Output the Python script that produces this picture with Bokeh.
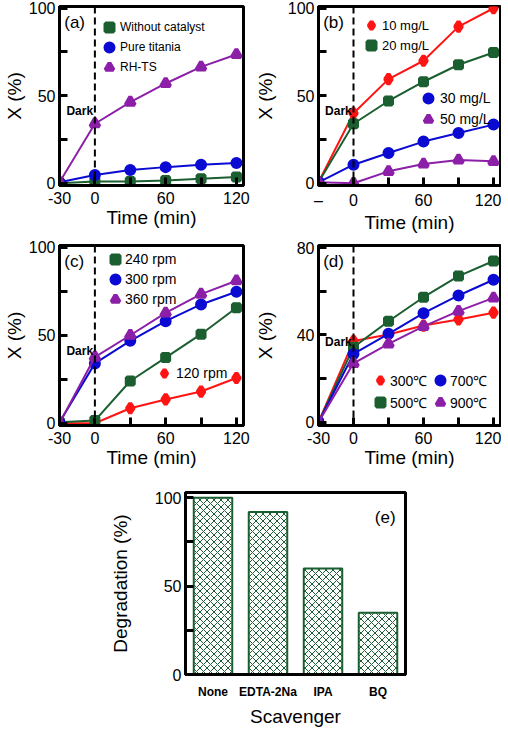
from bokeh.plotting import figure
from bokeh.models import Range1d, FactorRange, FixedTicker, Span, Label, Legend, LegendItem
from bokeh.layouts import column, row
from bokeh.embed import file_html
from bokeh.resources import INLINE

# ---------------- data ----------------
time_min = [-30, 0, 30, 60, 90, 120]
x_ticks = [-30, 0, 30, 60, 90, 120]
x_tick_labels = ["-30", "0", "", "60", "", "120"]
x_tick_labels_b = ["\u2013", "0", "", "60", "", "120"]

a_without = [0, 1, 1, 1.5, 2.5, 3.5]
a_titania = [0.5, 4.7, 7.5, 9.2, 10.5, 11.5]
a_rhts = [0.5, 34, 46.4, 57, 66.5, 73.6]

b_10 = [0.5, 40, 59.5, 70, 89.5, 100]
b_20 = [0.5, 34, 47, 58, 67.7, 74.7]
b_30 = [0.5, 10.6, 17.3, 23.8, 28.7, 33.5]
b_50 = [0.5, 0, 6.8, 11, 13.3, 12.5]

c_120 = [0, 0, 8.5, 13.5, 18, 25.7]
c_240 = [0.5, 1.5, 24, 37.3, 50.6, 65.6]
c_300 = [0.5, 34, 46.8, 58, 67.5, 74.7]
c_360 = [0, 37.6, 50, 62.7, 73.4, 81]

d_300 = [0, 37.2, 40.2, 44.3, 47.1, 50.2]
d_500 = [0, 34.4, 46.3, 57.3, 67, 73.9]
d_700 = [0, 31.3, 40.5, 50, 58.1, 65.3]
d_900 = [0, 27, 35.9, 43.9, 50.9, 57]

y_ticks_100 = [0, 25, 50, 75, 100]
y_labels_100 = ["0", "", "50", "", "100"]
y_ticks_80 = [0, 20, 40, 60, 80]
y_labels_80 = ["0", "", "40", "", "80"]

scavengers = ["None", "EDTA-2Na", "IPA", "BQ"]
degradation = [100, 92, 60, 35]

# ---------------- style ----------------
GREEN = "#1b5e30"
BLUE = "#0a0ad2"
PURPLE = "#8c1fa8"
RED = "#ff1414"
FONT = "Liberation Sans"
MARKERS = {"square": 7, "circle": 8, "triangle": 9, "diamond": 10}


def style_axis(ax, ticks=None, labels=None, tick_in=8):
    ax.axis_line_width = 3
    ax.axis_line_color = "black"
    ax.major_tick_in = tick_in
    ax.major_tick_out = 0
    ax.major_tick_line_width = 3
    ax.minor_tick_line_color = None
    ax.major_label_text_font = FONT
    ax.major_label_text_font_size = "16px"
    ax.major_label_text_color = "black"
    ax.axis_label_text_font = FONT
    ax.axis_label_text_font_size = "19px"
    ax.axis_label_text_font_style = "normal"
    ax.axis_label_text_color = "black"
    if ticks is not None:
        ax.ticker = FixedTicker(ticks=ticks)
        ax.major_label_overrides = {t: l for t, l in zip(ticks, labels)}


def panel(ylim, yticks, ylabels, xlabels, left, right, top, bottom, fw, fh,
          ylab_standoff, tag, dark_y):
    p = figure(frame_width=fw, frame_height=fh, min_border_left=left,
               min_border_right=right, min_border_top=top,
               min_border_bottom=bottom, x_range=Range1d(-30, 126),
               y_range=Range1d(*ylim), output_backend="svg",
               toolbar_location=None)
    p.xgrid.visible = False
    p.ygrid.visible = False
    p.outline_line_color = "black"
    p.outline_line_width = 3
    p.outline_line_alpha = 1
    style_axis(p.xaxis[0], x_ticks, xlabels)
    style_axis(p.yaxis[0], yticks, ylabels)
    p.xaxis.axis_label = "Time (min)"
    p.yaxis.axis_label = "X (%)"
    p.xaxis.major_label_standoff = 6
    p.xaxis.axis_label_standoff = 0
    p.yaxis.major_label_standoff = 4
    p.yaxis.axis_label_standoff = ylab_standoff
    p.add_layout(Span(location=0, dimension="height", line_color="black",
                      line_width=2, line_dash="7 4"))
    p.add_layout(Label(x=-1.5, y=dark_y, text="Dark", text_align="right",
                       text_baseline="middle", text_font=FONT,
                       text_font_style="bold", text_font_size="12px",
                       text_color="black"))
    span = ylim[1] - ylim[0]
    p.add_layout(Label(x=-26, y=ylim[1] - span * 0.09, text=tag,
                       text_align="left", text_baseline="middle",
                       text_font=FONT, text_font_size="17px",
                       text_color="black"))
    return p


def series(p, y, color, marker):
    p.line(time_min, y, line_color=color, line_width=2)
    return p.scatter(time_min, y, marker=marker, size=MARKERS[marker],
                     fill_color=color, line_color=color, line_width=4)


def add_legend(p, items, vx, vy, spacing, standoff, font):
    leg = Legend(items=[LegendItem(label=l, renderers=[r]) for l, r in items],
                 location=(vx, vy), orientation="vertical",
                 glyph_width=20, glyph_height=20, label_height=8,
                 label_width=10, spacing=spacing, label_standoff=standoff,
                 padding=0, margin=0, border_line_color=None,
                 background_fill_alpha=0, label_text_font=FONT,
                 label_text_font_size=font, label_text_color="black")
    p.add_layout(leg)


# ---------------- (a) ----------------
pa = panel((-1.3, 101), y_ticks_100, y_labels_100, x_tick_labels, 54, 8, 6, 55,
           184, 179, 1, "(a)", 41)
ra1 = series(pa, a_without, GREEN, "square")
ra2 = series(pa, a_titania, BLUE, "circle")
ra3 = series(pa, a_rhts, PURPLE, "triangle")
add_legend(pa, [("Without catalyst", ra1), ("Pure titania", ra2),
                ("RH-TS", ra3)], 40, 108, 0, 1, "12px")

# ---------------- (b) ----------------
pb = panel((-1.3, 101), y_ticks_100, y_labels_100, x_tick_labels_b, 63, 1, 6, 55,
           182, 179, 9, "(b)", 41)
rb1 = series(pb, b_10, RED, "diamond")
rb2 = series(pb, b_20, GREEN, "square")
rb3 = series(pb, b_30, BLUE, "circle")
rb4 = series(pb, b_50, PURPLE, "triangle")
add_legend(pb, [("10 mg/L", rb1), ("20 mg/L", rb2)], 43, 130, 0, 1, "13px")
add_legend(pb, [("30 mg/L", rb3), ("50 mg/L", rb4)], 100, 56, 1, 2, "14px")

# ---------------- (c) ----------------
pc = panel((-1.3, 101), y_ticks_100, y_labels_100, x_tick_labels, 54, 8, 5, 57,
           184, 180, 1, "(c)", 41)
rc1 = series(pc, c_120, RED, "diamond")
rc2 = series(pc, c_240, GREEN, "square")
rc3 = series(pc, c_300, BLUE, "circle")
rc4 = series(pc, c_360, PURPLE, "triangle")
add_legend(pc, [("240 rpm", rc2), ("300 rpm", rc3), ("360 rpm", rc4)],
           46, 116, 0, 0, "14px")
add_legend(pc, [("120 rpm", rc1)], 95, 42, 0, 2, "14px")

# ---------------- (d) ----------------
pd_ = panel((-1.5, 81), y_ticks_80, y_labels_80, x_tick_labels, 63, 1, 5, 57,
            182, 180, 18, "(d)", 37)
rd1 = series(pd_, d_300, RED, "diamond")
rd2 = series(pd_, d_500, GREEN, "square")
rd3 = series(pd_, d_700, BLUE, "circle")
rd4 = series(pd_, d_900, PURPLE, "triangle")
add_legend(pd_, [("300\u2103", rd1), ("500\u2103", rd2)], 52, 13, 2, 0, "14px")
add_legend(pd_, [("700\u2103", rd3), ("900\u2103", rd4)], 112, 13, 2, 0, "14px")

# ---------------- (e) ----------------
pe = figure(frame_width=220, frame_height=182, min_border_left=185,
            min_border_right=87, min_border_top=10, min_border_bottom=50,
            x_range=FactorRange(factors=scavengers), y_range=Range1d(0, 103),
            output_backend="svg", toolbar_location=None)
pe.xgrid.visible = False
pe.ygrid.visible = False
pe.outline_line_color = "black"
pe.outline_line_width = 3
style_axis(pe.xaxis[0])
style_axis(pe.yaxis[0], y_ticks_100, y_labels_100)
pe.xaxis.major_tick_line_color = None
pe.xaxis.major_label_text_font_style = "bold"
pe.xaxis.major_label_text_font_size = "12px"
pe.xaxis.major_label_standoff = 10
pe.xaxis.axis_label_standoff = 4
pe.xaxis.axis_label = "Scavenger"
pe.yaxis.axis_label = "Degradation (%)"
pe.yaxis.major_label_standoff = 4
pe.yaxis.axis_label_standoff = 21
pe.vbar(x=scavengers, top=degradation, width=0.7, fill_color="white",
        line_color=GREEN, line_width=2, hatch_pattern="diagonal_cross",
        hatch_color=GREEN, hatch_scale=7, hatch_weight=1)
pe.add_layout(Label(x=3.82, y=89, text="(e)", text_align="right",
                    text_baseline="middle", text_font=FONT,
                    text_font_size="17px", text_color="black"))

layout = column(row(pa, pb), row(pc, pd_), pe)
open("out.html", "w").write(file_html(layout, INLINE))
